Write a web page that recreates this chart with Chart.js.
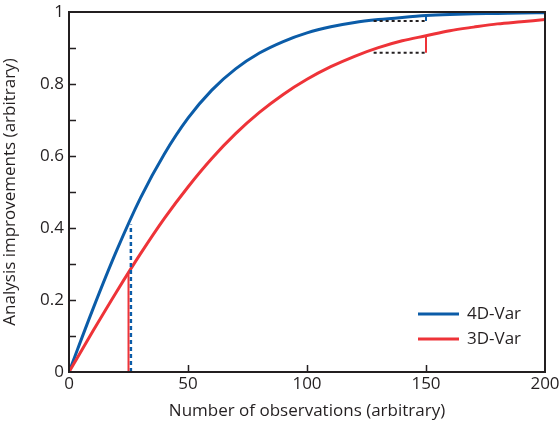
<!DOCTYPE html>
<html><head><meta charset="utf-8">
<script src="https://cdn.jsdelivr.net/npm/chart.js@4"></script>
<style>html,body{margin:0;padding:0;background:#fff}#wrap{width:559px;height:421px}</style>
</head><body><div id="wrap"><canvas id="c" width="559" height="421"></canvas></div>
<script>
const xValues = [0,10,20,30,40,50,60,70,80,90,100,110,120,130,140,150,160,170,180,190,200];
const var4D = [0,0.174,0.337,0.483,0.605,0.705,0.783,0.842,0.886,0.918,0.942,0.959,0.971,0.979,0.985,0.990,0.993,0.995,0.996,0.9975,0.998];
const var3D = [0,0.113,0.223,0.328,0.426,0.514,0.593,0.662,0.721,0.771,0.813,0.848,0.877,0.901,0.920,0.934,0.948,0.958,0.967,0.973,0.979];
const seriesLabels = ['4D-Var','3D-Var'];
const blueVertX = [26,26], blueVertY = [0,0.41];
const redVertX = [25,25], redVertY = [0,0.276];
const blueStepX = [150,150], blueStepY = [0.975,0.990];
const redStepX = [150,150], redStepY = [0.887,0.934];
const dotBlueX = [128,150], dotBlueY = [0.975,0.975];
const dotRedX = [128,150], dotRedY = [0.887,0.887];
const xTicks = [0,50,100,150,200];
const yTicks = [0,0.2,0.4,0.6,0.8,1];

const BLUE = '#0b5ca8', RED = '#ee3338', INK = '#231f20';
const FONT = '"Open Sans", "Noto Sans", sans-serif';
const pts = (xs, ys) => xs.map((x,i)=>({x, y: ys[i]}));

const frame = {
  id:'frame',
  afterDatasetsDraw(chart){
    const {ctx, chartArea:a, scales:{x,y}} = chart;
    ctx.save();
    ctx.strokeStyle = INK; ctx.lineWidth = 2;
    ctx.strokeRect(a.left, a.top, a.right-a.left, a.bottom-a.top);
    ctx.lineWidth = 1.5;
    ctx.beginPath();
    for (let v=0.1; v<0.95; v+=0.1){ const py = Math.round(y.getPixelForValue(v))+0.5; ctx.moveTo(a.left, py); ctx.lineTo(a.left+7, py); }
    [50,100,150].forEach(v=>{ const px = Math.round(x.getPixelForValue(v))+0.5; ctx.moveTo(px, a.bottom); ctx.lineTo(px, a.bottom-7); });
    ctx.stroke();
    // legend
    ctx.font = '17px ' + FONT; ctx.textBaseline = 'middle'; ctx.fillStyle = INK;
    const items = [[seriesLabels[0], BLUE, 314],[seriesLabels[1], RED, 339]];
    items.forEach(([t,c,yy])=>{
      ctx.strokeStyle = c; ctx.lineWidth = 3;
      ctx.beginPath(); ctx.moveTo(418, yy); ctx.lineTo(459, yy); ctx.stroke();
      ctx.fillText(t, 467, yy);
    });
    ctx.restore();
  }
};

new Chart(document.getElementById('c'), {
  type:'line',
  data:{ datasets:[
    {label:'dotBlue', data:pts(dotBlueX,dotBlueY), borderColor:INK, borderWidth:2, borderDash:[3,3], pointRadius:0},
    {label:'dotRed', data:pts(dotRedX,dotRedY), borderColor:INK, borderWidth:2, borderDash:[3,3], pointRadius:0},
    {label:'redVert', data:pts(redVertX,redVertY), borderColor:RED, borderWidth:2, pointRadius:0},
    {label:'blueVert', data:pts(blueVertX,blueVertY), borderColor:BLUE, borderWidth:2.5, borderDash:[4,3], pointRadius:0},
    {label:'blueStep', data:pts(blueStepX,blueStepY), borderColor:BLUE, borderWidth:2, pointRadius:0},
    {label:'redStep', data:pts(redStepX,redStepY), borderColor:RED, borderWidth:2, pointRadius:0},
    {label:seriesLabels[1], data:pts(xValues,var3D), borderColor:RED, borderWidth:3, pointRadius:0, cubicInterpolationMode:'monotone'},
    {label:seriesLabels[0], data:pts(xValues,var4D), borderColor:BLUE, borderWidth:3, pointRadius:0, cubicInterpolationMode:'monotone'}
  ]},
  options:{
    responsive:false, animation:false, devicePixelRatio:1,
    layout:{padding:{left:0,right:14,top:12,bottom:0}},
    plugins:{legend:{display:false}, tooltip:{enabled:false}},
    scales:{
      x:{type:'linear', min:0, max:200,
        afterBuildTicks(s){ s.ticks = xTicks.map(v=>({value:v})); },
        afterFit(s){ s.height = 49; s.paddingLeft = 0; s.paddingRight = 0; },
        grid:{display:false, drawTicks:false}, border:{display:false},
        ticks:{color:INK, font:{family:FONT, size:17}, padding:2, maxRotation:0},
        title:{display:true, text:'Number of observations (arbitrary)', color:INK, font:{family:FONT, size:17}, padding:{top:0,bottom:0}}
      },
      y:{type:'linear', min:0, max:1,
        afterBuildTicks(s){ s.ticks = yTicks.map(v=>({value:v})); },
        afterFit(s){ s.width = 69; s.paddingTop = 0; s.paddingBottom = 0; },
        grid:{display:false, drawTicks:false}, border:{display:false},
        ticks:{color:INK, font:{family:FONT, size:17}, padding:5, callback:v=>String(Math.round(v*10)/10)},
        title:{display:true, text:'Analysis improvements (arbitrary)', color:INK, font:{family:FONT, size:17}, padding:{top:0,bottom:3}}
      }
    }
  },
  plugins:[frame]
});
</script></body></html>
